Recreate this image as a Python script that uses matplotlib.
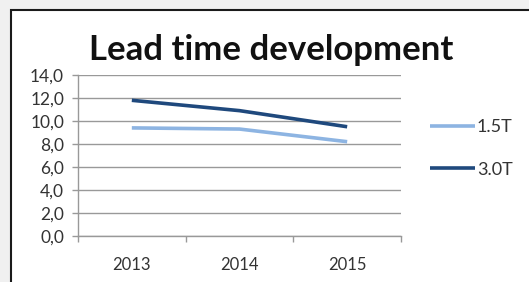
import matplotlib
matplotlib.use("Agg")
import matplotlib.pyplot as plt
from matplotlib.patches import Rectangle

years = ["2013", "2014", "2015"]
series_names = ["1.5T", "3.0T"]
values_15t = [9.4, 9.3, 8.2]
values_30t = [11.8, 10.9, 9.5]
y_ticks = [0, 2, 4, 6, 8, 10, 12, 14]

plt.rcParams["font.family"] = ["Lato", "DejaVu Sans"]

fig = plt.figure(figsize=(5.29, 2.82), dpi=100)
fig.patch.set_facecolor("#f0f0f0")

# white chart box, cut off at right and bottom
fig.patches.append(Rectangle((11 / 529, -0.05), 1.0, 1 - 10 / 282 + 0.05,
                             transform=fig.transFigure, facecolor="white",
                             edgecolor="#1a1a1a", linewidth=1.5, zorder=-1))

ax = fig.add_axes([78 / 529, 46 / 282, 323 / 529, 161 / 282])
ax.set_facecolor("none")
ax.set_zorder(1)

x = list(range(len(years)))
ax.plot(x, values_15t, color="#8db4e2", lw=2.6, label=series_names[0], solid_capstyle="butt")
ax.plot(x, values_30t, color="#1f497d", lw=2.6, label=series_names[1], solid_capstyle="butt")

ax.set_xlim(-0.5, len(years) - 0.5)
ax.set_ylim(0, 14)
ax.set_yticks(y_ticks)
ax.set_yticklabels([f"{v:.1f}".replace(".", ",") for v in y_ticks])
ax.yaxis.grid(True, color="#999999", lw=1.0)
ax.set_axisbelow(True)

# category boundaries get tick marks, centres get labels
ax.set_xticks([i - 0.5 for i in range(len(years) + 1)])
ax.set_xticklabels([])
ax.set_xticks(x, minor=True)
ax.set_xticklabels(years, minor=True)
ax.tick_params(axis="x", which="major", direction="out", length=4, color="#999999", width=1)
ax.tick_params(axis="x", which="minor", length=0, pad=15, labelsize=12, labelcolor="#333333")
ax.tick_params(axis="y", direction="out", length=4, color="#999999", width=1,
               pad=6, labelsize=12.5, labelcolor="#333333")

for side in ["top", "right"]:
    ax.spines[side].set_visible(False)
for side in ["left", "bottom"]:
    ax.spines[side].set_color("#999999")
    ax.spines[side].set_linewidth(1.0)

fig.text(271 / 529, 1 - 50 / 282, "Lead time development", ha="center", va="center",
         fontsize=25, fontweight="bold", color="#111111")

fig.legend(loc="center left", bbox_to_anchor=(430 / 529, 1 - 148.5 / 282),
           frameon=False, fontsize=13, handlelength=2.5, handletextpad=0.1,
           labelspacing=1.45, borderpad=0, borderaxespad=0, labelcolor="#333333")

fig.savefig("out.png", dpi=100, facecolor=fig.get_facecolor())
